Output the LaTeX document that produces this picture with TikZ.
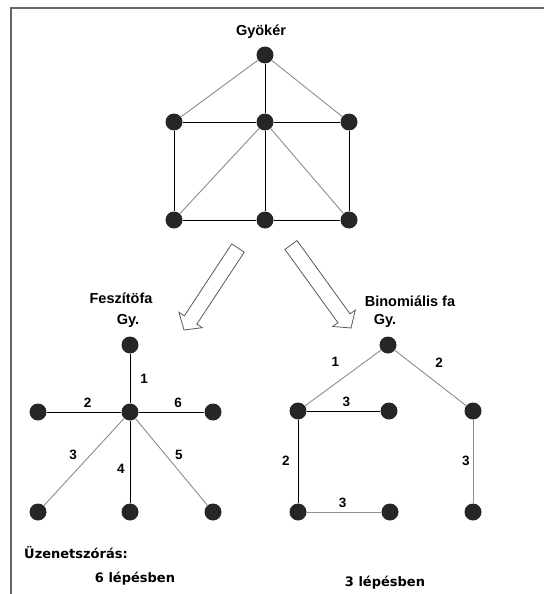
\documentclass[tikz,border=0pt]{standalone}
\usepackage{fontspec}
\setmainfont{Liberation Sans}
\newfontfamily\dejavu{DejaVu Sans}
\usetikzlibrary{calc}
\tikzset{
    dot/.style={circle, fill=black!85, inner sep=0pt, minimum size=17pt},
    dark edge/.style={draw=black, line width=0.9pt},
    light edge/.style={draw=black!45, line width=0.9pt},
    edge num/.style={inner sep=1pt, font=\fontsize{13.5}{15}\selectfont\bfseries},
    head text/.style={inner sep=0pt, font=\fontsize{14.5}{17}\selectfont\bfseries},
    note text/.style={inner sep=0pt, font=\dejavu\fontsize{13}{15}\selectfont\bfseries},
    block arrow/.style={draw=black!65, line width=0.8pt, fill=white, line join=miter},
    frame line/.style={draw=black!60, line width=1.2pt},
}
% hollow arrow from #1 (tail) to #2 (tip)
\newcommand{\hollowarrow}[2]{%
    \coordinate (#1-h) at ($(#2)!12pt!(#1)$);
    \draw[block arrow] ($(#1)!7.5pt!90:(#2)$) -- ($(#1-h)!7.5pt!90:(#2)$) -- ($(#1-h)!14pt!90:(#2)$) -- (#2)
        -- ($(#1-h)!14pt!-90:(#2)$) -- ($(#1-h)!7.5pt!-90:(#2)$) -- ($(#1)!7.5pt!-90:(#2)$) -- cycle;%
}

\begin{document}
\begin{tikzpicture}[x=1pt, y=-1pt]
\useasboundingbox (0,0) rectangle (544,594);
\draw[frame line] (11,594) -- (11,8) -- (544,8);

% original graph
\node[head text] (gyoker) at (261,32) {Gyökér};
\node[dot] (g0) at (265,55) {};
\node[dot] (g1) at (174,122) {};
\node[dot] (g2) at (265,122) {};
\node[dot] (g3) at (349,122) {};
\node[dot] (g4) at (174,220) {};
\node[dot] (g5) at (265,220) {};
\node[dot] (g6) at (349,220) {};
\draw[light edge] (g0) -- (g1);
\draw[light edge] (g0) -- (g3);
\draw[dark edge] (g0) -- (g2);
\draw[dark edge] (g1) -- (g2) -- (g3);
\draw[dark edge] (g1) -- (g4);
\draw[dark edge] (g2) -- (g5);
\draw[dark edge] (g3) -- (g6);
\draw[dark edge] (g4) -- (g5) -- (g6);
\draw[light edge] (g2) -- (g4);
\draw[light edge] (g2) -- (g6);

% arrows
\coordinate (la) at (238,248);
\coordinate (lb) at (184,330);
\coordinate (ra) at (291,245);
\coordinate (rb) at (351,328);
\hollowarrow{la}{lb}
\hollowarrow{ra}{rb}

% spanning tree
\node[head text] (fesz) at (121,298) {Feszítöfa};
\node[head text] (feszgy) at (128,321) {Gy.};
\node[dot] (s0) at (130,345) {};
\node[dot] (sc) at (130,412) {};
\node[dot] (sl) at (38,412) {};
\node[dot] (sr) at (213,412) {};
\node[dot] (s3) at (38,512) {};
\node[dot] (s4) at (130,512) {};
\node[dot] (s5) at (213,512) {};
\draw[dark edge] (sc) -- node[edge num, right=9pt] {1} (s0);
\draw[dark edge] (sl) -- node[edge num, pos=.55, above=3pt] {2} (sc);
\draw[dark edge] (sc) -- node[edge num, pos=.6, above=3pt] {6} (sr);
\draw[light edge] (sc) -- node[edge num, pos=.42, left=12pt] {3} (s3);
\draw[dark edge] (sc) -- node[edge num, pos=.58, left=4pt] {4} (s4);
\draw[light edge] (sc) -- node[edge num, pos=.42, right=8pt] {5} (s5);

% binomial tree
\node[head text] (binom) at (410,301) {Binomiális fa};
\node[head text] (binomgy) at (385,321) {Gy.};
\node[dot] (b0) at (388,345) {};
\node[dot] (b1) at (298,411) {};
\node[dot] (b2) at (389,411) {};
\node[dot] (b3) at (473,411) {};
\node[dot] (b4) at (298,512) {};
\node[dot] (b5) at (390,512) {};
\node[dot] (b6) at (473,512) {};
\draw[light edge] (b0) -- node[edge num, pos=.6, above=16pt] {1} (b1);
\draw[light edge] (b0) -- node[edge num, pos=.62, above=16pt] {2} (b3);
\draw[dark edge] (b1) -- node[edge num, pos=.54, above=3pt] {3} (b2);
\draw[dark edge] (b1) -- node[edge num, pos=.49, left=7pt] {2} (b4);
\draw[light edge] (b4) -- node[edge num, pos=.48, above=3pt] {3} (b5);
\draw[light edge] (b3) -- node[edge num, pos=.49, left=2pt] {3} (b6);

% step counts
\node[note text, anchor=west] (uzenet) at (24,553) {Üzenetszórás:};
\node[note text] (lepes6) at (135,579) {6 lépésben};
\node[note text] (lepes3) at (385,583) {3 lépésben};
\end{tikzpicture}
\end{document}
